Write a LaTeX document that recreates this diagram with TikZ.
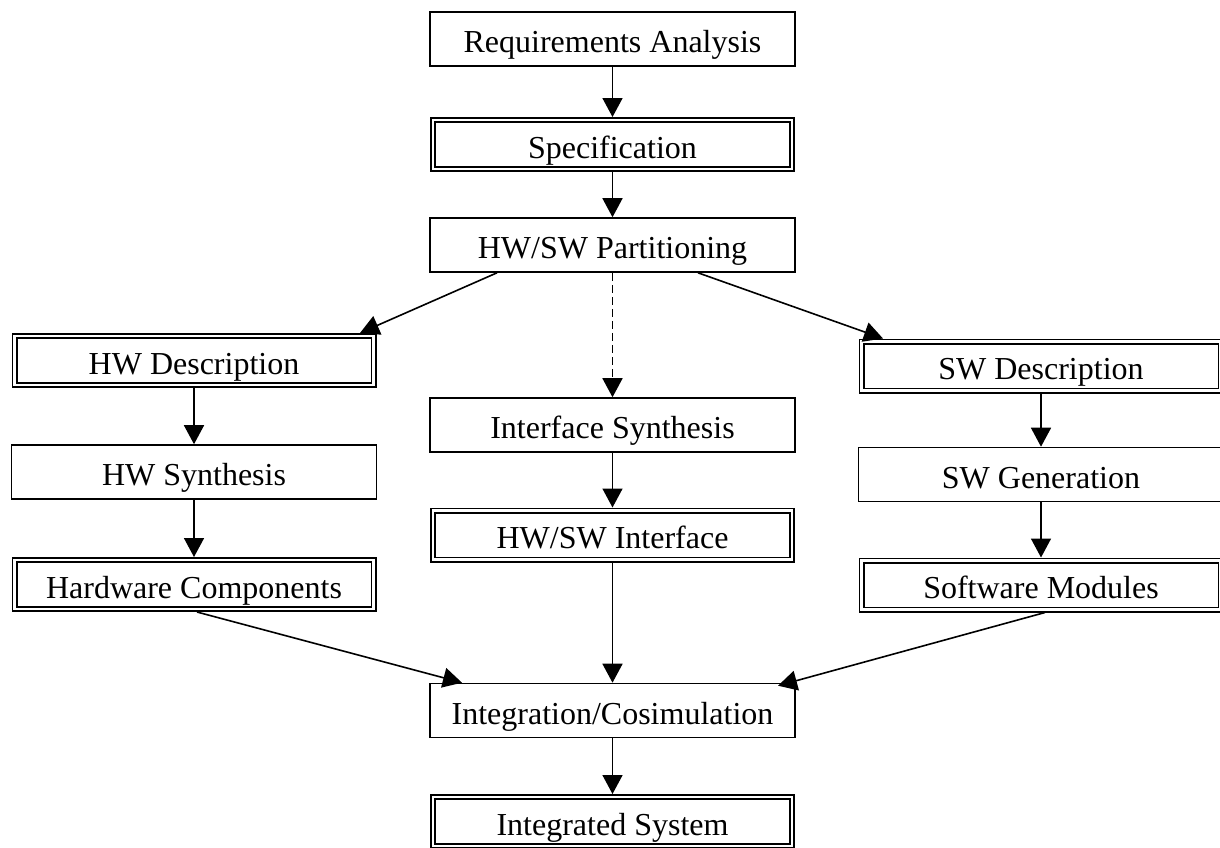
\documentclass[tikz,border=0pt]{standalone}
\usepackage{fontspec}
\setmainfont{Liberation Serif}
\usetikzlibrary{arrows.meta}
\begin{document}
\begin{tikzpicture}[x=1pt,y=-1pt,
  box/.style={draw, line width=1.6pt, minimum width=365pt, minimum height=54pt,
    inner sep=0pt, text height=27pt, text depth=0pt,
    font=\fontsize{32}{38}\selectfont},
  dbox/.style={box, double, double distance=2.6pt, line width=1.7pt,
    minimum width=359pt, minimum height=49pt, outer sep=3pt},
  arr/.style={line width=1.6pt, -{Triangle[length=19pt,width=20pt]}},
  darr/.style={arr, dash pattern=on 8pt off 4pt}
]
\useasboundingbox (0,0) rectangle (1220,847);
% center column
\node[box]  (req)    at (612.5,39)    {Requirements Analysis};
\node[dbox] (spec)   at (612.5,144.5) {Specification};
\node[box]  (part)   at (612.5,245)   {HW/SW Partitioning};
\node[box]  (isyn)   at (612.5,425)   {Interface Synthesis};
\node[dbox] (hwswif) at (612.5,535)   {HW/SW Interface};
\node[box]  (integ)  at (612.5,710.5) {Integration/Cosimulation};
\node[dbox] (isys)   at (612.5,821.5) {Integrated System};
% left column
\node[dbox] (hwd) at (194,360.5) {HW Description};
\node[box]  (hws) at (194,472)   {HW Synthesis};
\node[dbox] (hwc) at (194,584.5) {Hardware Components};
% right column
\node[dbox] (swd) at (1041,366)   {SW Description};
\node[box]  (swg) at (1041,474.5) {SW Generation};
\node[dbox] (swm) at (1041,585)   {Software Modules};
% connectors
\draw[arr] (req) -- (spec);
\draw[arr] (spec) -- (part);
\draw[darr] (part) -- (isyn);
\draw[arr] ([xshift=-115.5pt]part.south) -- ([xshift=166pt]hwd.north);
\draw[arr] ([xshift=85.5pt]part.south) -- ([xshift=-158pt]swd.north);
\draw[arr] (isyn) -- (hwswif);
\draw[arr] (hwswif) -- (integ);
\draw[arr] (hwd) -- (hws);
\draw[arr] (hws) -- (hwc);
\draw[arr] (swd) -- (swg);
\draw[arr] (swg) -- (swm);
\draw[arr] ([xshift=3pt]hwc.south) -- ([xshift=-150.5pt]integ.north);
\draw[arr] ([xshift=4pt]swm.south) -- ([xshift=165.5pt,yshift=-3pt]integ.north);
\draw[arr] (integ) -- (isys);
\end{tikzpicture}
\end{document}
